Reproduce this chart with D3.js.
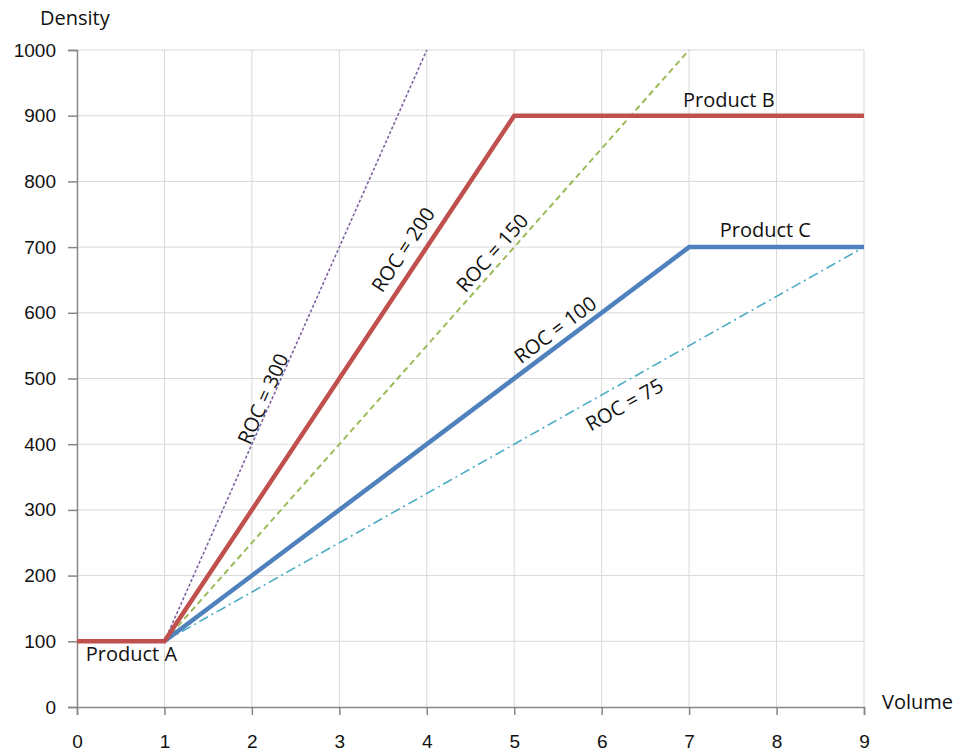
<!DOCTYPE html>
<html>
<head>
<meta charset="utf-8">
<script src="https://cdn.jsdelivr.net/npm/d3@7"></script>
<style>
  body { margin: 0; background: #fff; }
  svg { font-family: "Open Sans", sans-serif; }
</style>
</head>
<body>
<svg id="chart" width="963" height="752"></svg>
<script>
// x values (Volume) and y values (Density)
const xTicks = [0, 1, 2, 3, 4, 5, 6, 7, 8, 9];
const yTicks = [0, 100, 200, 300, 400, 500, 600, 700, 800, 900, 1000];

const productB = [[0, 100], [1, 100], [5, 900], [9, 900]];
const productC = [[1, 100], [7, 700], [9, 700]];
const roc300 = [[1, 100], [4, 1000]];
const roc150 = [[1, 100], [7, 1000]];
const roc75 = [[1, 100], [9, 700]];

// label anchors in data units
const productLabels = [
    { text: 'Product A', x: 0.1, y: 70 },
    { text: 'Product B', x: 6.93, y: 913 },
    { text: 'Product C', x: 7.35, y: 715 }
];
const rocLabels = [
    { text: 'ROC = 300', roc: 300, x: 2.13, y: 469 },
    { text: 'ROC = 200', roc: 200, x: 3.73, y: 696 },
    { text: 'ROC = 150', roc: 150, x: 4.75, y: 691 },
    { text: 'ROC = 100', roc: 100, x: 5.47, y: 574 },
    { text: 'ROC = 75', roc: 75, x: 6.26, y: 460 }
];

const svg = d3.select('#chart');
const margin = { top: 50, right: 99, bottom: 45, left: 77 };
const width = +svg.attr('width') - margin.left - margin.right;
const height = +svg.attr('height') - margin.top - margin.bottom;
const chartArea = svg.append('g').attr('transform', `translate(${margin.left},${margin.top})`);

const xScale = d3.scaleLinear().domain([0, 9]).range([0, width]);
const yScale = d3.scaleLinear().domain([0, 1000]).range([height, 0]);

// gridlines
chartArea.append('g')
    .selectAll('line')
    .data(xTicks.slice(1))
    .join('line')
    .attr('x1', d => xScale(d)).attr('x2', d => xScale(d))
    .attr('y1', 0).attr('y2', height)
    .attr('stroke', '#d9d9d9');

chartArea.append('g')
    .selectAll('line')
    .data(yTicks.slice(1))
    .join('line')
    .attr('x1', 0).attr('x2', width)
    .attr('y1', d => yScale(d)).attr('y2', d => yScale(d))
    .attr('stroke', '#d9d9d9');

// axes
const xAxis = chartArea.append('g')
    .attr('transform', `translate(0,${height})`)
    .call(d3.axisBottom(xScale).tickValues(xTicks).tickSize(8).tickPadding(20).tickFormat(d3.format('d')));
const yAxis = chartArea.append('g')
    .call(d3.axisLeft(yScale).tickValues(yTicks).tickSize(9).tickPadding(12).tickFormat(d3.format('d')));

[xAxis, yAxis].forEach(ax => {
    ax.select('.domain').attr('stroke', '#868686').attr('stroke-width', 1.5);
    ax.selectAll('.tick line').attr('stroke', '#868686').attr('stroke-width', 1.5);
    ax.selectAll('.tick text').attr('fill', '#111').style('font-size', '19px');
});

svg.append('text')
    .attr('x', 40).attr('y', 25)
    .attr('fill', '#111')
    .style('font-size', '20px')
    .text('Density');

svg.append('text')
    .attr('x', 882).attr('y', 709)
    .attr('fill', '#111')
    .style('font-size', '20px')
    .text('Volume');

const line = d3.line()
    .x(d => xScale(d[0]))
    .y(d => yScale(d[1]));

chartArea.append('path').datum(roc300)
    .attr('d', line).attr('fill', 'none')
    .attr('stroke', '#8064a2').attr('stroke-width', 1.6)
    .attr('stroke-dasharray', '3,2');

chartArea.append('path').datum(roc150)
    .attr('d', line).attr('fill', 'none')
    .attr('stroke', '#9bbb59').attr('stroke-width', 2)
    .attr('stroke-dasharray', '6,4');

chartArea.append('path').datum(roc75)
    .attr('d', line).attr('fill', 'none')
    .attr('stroke', '#4bacc6').attr('stroke-width', 1.6)
    .attr('stroke-dasharray', '10,4,2,4');

chartArea.append('path').datum(productC)
    .attr('d', line).attr('fill', 'none')
    .attr('stroke', '#4f81bd').attr('stroke-width', 4.5);

chartArea.append('path').datum(productB)
    .attr('d', line).attr('fill', 'none')
    .attr('stroke', '#c0504d').attr('stroke-width', 4.5);

// labels
chartArea.selectAll('.product-label')
    .data(productLabels)
    .join('text')
    .attr('class', 'product-label')
    .attr('x', d => xScale(d.x))
    .attr('y', d => yScale(d.y))
    .attr('fill', '#111')
    .style('font-size', '20px')
    .text(d => d.text);

const slopeAngle = roc => {
    const dx = xScale(1) - xScale(0);
    const dy = yScale(0) - yScale(roc);
    return -Math.atan2(dy, dx) * 180 / Math.PI;
};

chartArea.selectAll('.roc-label')
    .data(rocLabels)
    .join('text')
    .attr('class', 'roc-label')
    .attr('transform', d => `translate(${xScale(d.x)},${yScale(d.y)}) rotate(${slopeAngle(d.roc)})`)
    .attr('text-anchor', 'middle')
    .attr('dy', '0.35em')
    .attr('fill', '#111')
    .style('font-size', '20px')
    .text(d => d.text);
</script>
</body>
</html>
